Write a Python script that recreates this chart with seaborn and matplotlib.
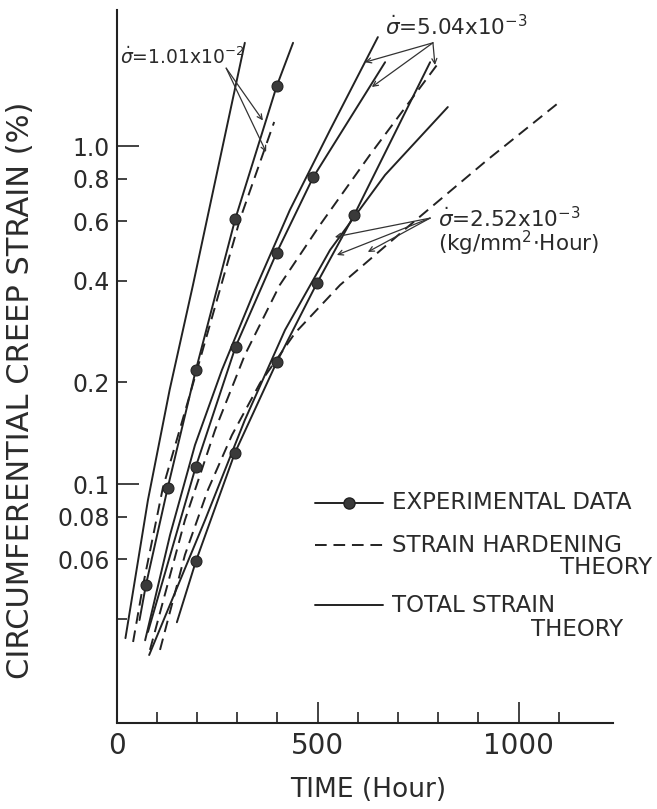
import numpy as np
import pandas as pd
import matplotlib
matplotlib.use("Agg")
import matplotlib.pyplot as plt
import seaborn as sns
from matplotlib.lines import Line2D
from matplotlib.ticker import FixedLocator, FixedFormatter

# ---------------- data (time in hours, strain in %) ----------------
# sigma-dot = 1.01e-2
t1_total = [22, 78, 132, 190, 319]
e1_total = [0.035, 0.0897, 0.190, 0.388, 2.02]
t1_hard = [41, 66, 115, 200, 307, 392]
e1_hard = [0.0341, 0.0503, 0.0973, 0.2174, 0.607, 1.178]
t1_exp_line = [57, 73, 127, 197, 295, 398, 439]
e1_exp_line = [0.0396, 0.0503, 0.0973, 0.217, 0.607, 1.50, 2.02]
t1_pts = [73, 127, 197, 295, 398]
e1_pts = [0.0503, 0.0973, 0.2174, 0.607, 1.504]

# sigma-dot = 5.04e-3
t2_total = [71, 133, 195, 262, 344, 431, 531, 650]
e2_total = [0.0345, 0.0707, 0.1304, 0.2174, 0.375, 0.6465, 1.115, 2.10]
t2_hard = [83, 170, 245, 319, 406, 506, 630, 797]
e2_hard = [0.0323, 0.0782, 0.1445, 0.2408, 0.388, 0.584, 0.9406, 1.737]
t2_exp_line = [78, 197, 296, 398, 489, 668]
e2_exp_line = [0.0365, 0.1125, 0.2548, 0.483, 0.808, 1.77]
t2_pts = [197, 296, 398, 489]
e2_pts = [0.1125, 0.2548, 0.483, 0.808]

# sigma-dot = 2.52e-3
t3_total = [81, 220, 319, 419, 531, 668, 824]
e3_total = [0.0312, 0.0782, 0.1546, 0.2855, 0.4924, 0.821, 1.304]
t3_hard = [108, 170, 227, 287, 357, 444, 556, 730, 922, 1108]
e3_hard = [0.0323, 0.0617, 0.096, 0.1396, 0.199, 0.2798, 0.388, 0.584, 0.909, 1.368]
t3_exp_line = [150, 197.5, 294.5, 398, 498, 591, 780]
e3_exp_line = [0.039, 0.0592, 0.1238, 0.229, 0.392, 0.625, 1.77]
t3_pts = [197.5, 294.5, 398, 498, 591]
e3_pts = [0.0592, 0.1238, 0.229, 0.392, 0.625]

y_major = [0.1, 1.0]
y_major_labels = ["0.1", "1.0"]
y_minor = [0.04, 0.06, 0.08, 0.2, 0.4, 0.6, 0.8]
y_minor_labels = ["", "0.06", "0.08", "0.2", "0.4", "0.6", "0.8"]
x_major = [0, 500, 1000]
x_major_labels = ["0", "500", "1000"]
x_minor = [100, 200, 300, 400, 600, 700, 800, 900, 1100]

# ---------------- style ----------------
sns.set_theme(style="white")
plt.rcParams['font.family'] = ['DejaVu Sans']
INK = '#222222'
TXT = '#2b2b2b'

W, H = 657, 809
fig = plt.figure(figsize=(W / 100, H / 100), dpi=100)
ax = fig.add_axes([116.6 / W, (H - 722.5) / H, 496.4 / W, 712.5 / H])
ax.set_facecolor('white')


def draw(t, e, dashed=False):
    sns.lineplot(x=t, y=e, ax=ax, color=INK, lw=1.4, estimator=None,
                 sort=False, legend=False)
    if dashed:
        ax.lines[-1].set_dashes([6, 3.5])


for tt, ee in [(t1_total, e1_total), (t2_total, e2_total), (t3_total, e3_total)]:
    draw(tt, ee)
for tt, ee in [(t1_exp_line, e1_exp_line), (t2_exp_line, e2_exp_line), (t3_exp_line, e3_exp_line)]:
    draw(tt, ee)
for tt, ee in [(t1_hard, e1_hard), (t2_hard, e2_hard), (t3_hard, e3_hard)]:
    draw(tt, ee, dashed=True)

for tt, ee in [(t1_pts, e1_pts), (t2_pts, e2_pts), (t3_pts, e3_pts)]:
    sns.scatterplot(x=tt, y=ee, ax=ax, s=62, color='#3a3a3a', edgecolor=INK,
                    linewidth=0.8, zorder=5, legend=False)

ax.set_yscale('log')
ax.set_ylim(0.0197, 2.526)
ax.set_xlim(0, 1235)

for s in ['top', 'right']:
    ax.spines[s].set_visible(False)
for s in ['left', 'bottom']:
    ax.spines[s].set_color(INK)
    ax.spines[s].set_linewidth(1.5)

ax.yaxis.set_major_locator(FixedLocator(y_major))
ax.yaxis.set_major_formatter(FixedFormatter(y_major_labels))
ax.yaxis.set_minor_locator(FixedLocator(y_minor))
ax.yaxis.set_minor_formatter(FixedFormatter(y_minor_labels))
ax.xaxis.set_major_locator(FixedLocator(x_major))
ax.xaxis.set_major_formatter(FixedFormatter(x_major_labels))
ax.xaxis.set_minor_locator(FixedLocator(x_minor))

ax.tick_params(axis='y', which='major', direction='in', length=16, width=1.2,
               labelsize=17, pad=5, colors=INK, labelcolor=TXT, left=True)
ax.tick_params(axis='y', which='minor', direction='in', length=7.5, width=1.2,
               labelsize=17, pad=5, colors=INK, labelcolor=TXT, left=True)
ax.tick_params(axis='x', which='major', direction='in', length=15, width=1.2,
               labelsize=20, pad=7, colors=INK, labelcolor=TXT, bottom=True)
ax.tick_params(axis='x', which='minor', direction='in', length=8, width=1.2,
               colors=INK, bottom=True)

ax.set_xlabel('TIME (Hour)', fontsize=19, color=TXT, va='center')
ax.xaxis.set_label_coords(0.5065, -0.0947)
ax.set_ylabel('CIRCUMFERENTIAL CREEP STRAIN (%)', fontsize=22, color=TXT, va='center')
ax.yaxis.set_label_coords(-0.1946, 0.4667)

# ---------------- annotations ----------------
arrow = dict(arrowstyle='->', lw=0.9, color='#333333', shrinkA=0, shrinkB=0,
             mutation_scale=9)
ax.text(8.5, 1.83, r'$\dot{\sigma}$=1.01x10$^{-2}$', fontsize=13.5, color=TXT,
        ha='left', va='center')
for tip in [(364, 1.19), (372, 0.96)]:
    ax.annotate('', xy=tip, xytext=(272.6, 1.70), arrowprops=arrow)

ax.text(668, 2.25, r'$\dot{\sigma}$=5.04x10$^{-3}$', fontsize=15.5, color=TXT,
        ha='left', va='center')
for tip in [(618, 1.77), (635, 1.495), (792, 1.737)]:
    ax.annotate('', xy=tip, xytext=(787, 2.02), arrowprops=arrow)

ax.text(800, 0.612, r'$\dot{\sigma}$=2.52x10$^{-3}$', fontsize=15.5, color=TXT,
        ha='left', va='center')
ax.text(800, 0.516, r'(kg/mm$^{2}$$\cdot$Hour)', fontsize=15.5, color=TXT,
        ha='left', va='center')
for tip in [(543, 0.538), (548, 0.476), (625, 0.486)]:
    ax.annotate('', xy=tip, xytext=(780, 0.612), arrowprops=arrow)

# ---------------- legend (drawn by hand) ----------------
def fx(px):
    return px / W


def fy(py):
    return 1 - py / H


fig.add_artist(Line2D([fx(315), fx(383)], [fy(503)] * 2, color=INK, lw=1.4))
fig.add_artist(Line2D([fx(349)], [fy(503)], marker='o', ms=8, color='#3a3a3a',
                      mec=INK, ls='none'))
fig.add_artist(Line2D([fx(315), fx(383)], [fy(545)] * 2, color=INK, lw=1.4,
                      dashes=[6, 3.5]))
fig.add_artist(Line2D([fx(315), fx(383)], [fy(605)] * 2, color=INK, lw=1.4))
lk = dict(fontsize=16.5, color=TXT, va='center')
fig.text(fx(392), fy(503), 'EXPERIMENTAL DATA', ha='left', **lk)
fig.text(fx(392), fy(545), 'STRAIN HARDENING', ha='left', **lk)
fig.text(fx(652), fy(568), 'THEORY', ha='right', **lk)
fig.text(fx(392), fy(605), 'TOTAL STRAIN', ha='left', **lk)
fig.text(fx(623), fy(629), 'THEORY', ha='right', **lk)

fig.savefig('out.png', dpi=100, facecolor='white')
